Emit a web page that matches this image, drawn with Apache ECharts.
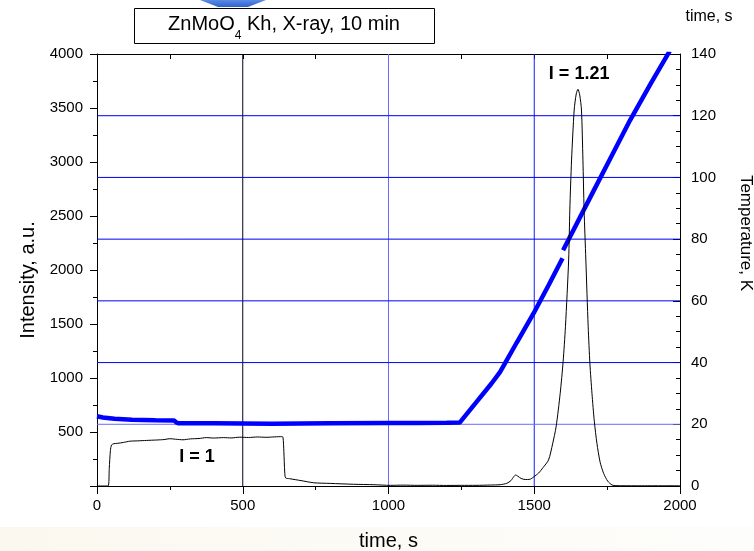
<!DOCTYPE html>
<html><head><meta charset="utf-8">
<script src="https://cdn.jsdelivr.net/npm/echarts@6/dist/echarts.min.js"></script>
<style>html,body{margin:0;padding:0;background:#fff}#c{width:754px;height:551px}</style>
</head><body><div id="c"></div>
<script>
// Intensity (left axis), [time s, intensity a.u.]
const intensity = [
  [0,0],[38,0],[42,160],[46,330],[50,380],[58,392],[70,395],[90,403],[113,415],[140,418],[170,422],
  [205,426],[230,430],[250,438],[270,433],[295,428],[320,436],[350,440],[375,448],[400,444],[434,448],
  [460,445],[490,452],[520,449],[550,454],[580,451],[610,455],[634,457],[638,452],[641,320],[644,130],
  [647,75],[660,68],[700,50],[743,30],[800,24],[880,16],[950,12],[1006,6],[1050,8],[1100,6],[1150,7],
  [1200,5],[1250,6],[1300,6],[1350,9],[1383,12],[1406,25],[1420,50],[1430,88],[1436,102],[1443,92],
  [1455,70],[1469,60],[1485,62],[1498,84],[1515,120],[1530,170],[1549,241],[1563,390],[1575,549],
  [1589,858],[1599,1150],[1607,1475],[1618,2093],[1622,2556],[1628,3018],[1637,3481],[1644,3630],
  [1650,3673],[1656,3620],[1662,3481],[1667,3018],[1671,2556],[1677,2093],[1685,1475],[1691,1130],
  [1698,858],[1706,600],[1715,395],[1726,220],[1738,117],[1752,45],[1767,9],[1780,3],[1850,2],[2000,2]
];
// Temperature (right axis), [time s, K]; '-' marks the small gap in the trace
const temperature = [
  [0,22.6],[20,22.2],[60,21.8],[120,21.5],[200,21.3],[265,21.2],[272,20.6],[280,20.3],[400,20.3],
  [600,20.2],[800,20.3],[1000,20.4],[1100,20.4],[1200,20.5],[1245,20.6],[1300,27.0],[1354,33.3],
  [1383,37.0],[1440,46.5],[1498,56.0],[1550,65.2],[1597,73.8],[1598,'-'],[1599,76.4],[1700,95.0],
  [1760,106.0],[1829,118.6],[1900,130.5],[1965,141.0]
];
const timeRange = [0, 2000];
const intensityRange = [0, 4000];
const timeGridLines = [500, 1000, 1500];
const timeGridColors = ['#000020', '#6a6aff', '#1a1aff'];
const tempGridLines = [20, 40, 60, 80, 100, 120];
const tempGridColors = ['#6a6aff', '#0000f0', '#0000f0', '#0000f0', '#0000f0', '#0000f0'];
const annotations = [
  {text: 'I = 1', t: 343, v: 268},
  {text: 'I = 1.21', t: 1654, v: 3815}
];

const FONT = '"Liberation Sans", Arial, sans-serif';
const chart = echarts.init(document.getElementById('c'), null, {renderer: 'canvas'});
const axisLineStyle = {color: '#000', width: 1};

const gridSeries = [];
timeGridLines.forEach((t, i) => gridSeries.push({
  type: 'line', xAxisIndex: 0, yAxisIndex: 0, z: 1, silent: true, showSymbol: false,
  data: intensityRange.map(v => [t, v]),
  lineStyle: {color: timeGridColors[i], width: 1}
}));
tempGridLines.forEach((v, i) => gridSeries.push({
  type: 'line', xAxisIndex: 0, yAxisIndex: 1, z: 1, silent: true, showSymbol: false,
  data: timeRange.map(t => [t, v]),
  lineStyle: {color: tempGridColors[i], width: 1}
}));

chart.setOption({
  animation: false,
  backgroundColor: '#fff',
  textStyle: {fontFamily: FONT},
  grid: {left: 97, right: 74, top: 54, bottom: 65, containLabel: false, outerBoundsMode: 'none'},
  xAxis: [
    {
      type: 'value', position: 'bottom', min: 0, max: 2000, interval: 500,
      axisLine: {show: true, onZero: false, lineStyle: axisLineStyle},
      axisTick: {show: true, length: 8, lineStyle: axisLineStyle},
      minorTick: {show: true, splitNumber: 2, length: 4, lineStyle: axisLineStyle},
      axisLabel: {fontSize: 15, color: '#000', margin: 12, fontFamily: FONT, formatter: v => String(v)},
      splitLine: {show: false},
      name: 'time, s', nameLocation: 'middle', nameGap: 45,
      nameTextStyle: {fontSize: 20, color: '#000', fontFamily: FONT}
    },
    {
      type: 'value', position: 'top', min: 0, max: 2000, interval: 250,
      axisLine: {show: true, onZero: false, lineStyle: axisLineStyle},
      axisTick: {show: true, inside: true, length: 5, lineStyle: axisLineStyle},
      axisLabel: {show: false},
      splitLine: {show: false}
    }
  ],
  yAxis: [
    {
      type: 'value', position: 'left', min: 0, max: 4000, interval: 500,
      axisLine: {show: true, onZero: false, lineStyle: axisLineStyle},
      axisTick: {show: true, length: 7, lineStyle: axisLineStyle},
      minorTick: {show: true, splitNumber: 2, length: 4, lineStyle: axisLineStyle},
      axisLabel: {fontSize: 15, color: '#000', margin: 14, fontFamily: FONT,
        formatter: v => (v === 0 ? '' : String(v))},
      splitLine: {show: false},
      name: 'Intensity, a.u.', nameLocation: 'middle', nameGap: 59, nameRotate: 90,
      nameTextStyle: {fontSize: 20, color: '#000', fontFamily: FONT, padding: [0, 20, 0, 0]}
    },
    {
      type: 'value', position: 'right', min: 0, max: 140, interval: 20,
      axisLine: {show: true, onZero: false, lineStyle: axisLineStyle},
      axisTick: {show: true, inside: true, length: 7, lineStyle: axisLineStyle},
      minorTick: {show: true, splitNumber: 4, length: 4, lineStyle: axisLineStyle},
      axisLabel: {fontSize: 15, color: '#000', margin: 11, fontFamily: FONT},
      splitLine: {show: false},
      name: 'Temperature, K', nameLocation: 'middle', nameGap: 57, nameRotate: -90,
      nameTextStyle: {fontSize: 17, color: '#000', fontFamily: FONT, padding: [0, 74, 0, 0]}
    }
  ],
  series: gridSeries.concat([
    {
      name: 'Intensity', type: 'line', xAxisIndex: 0, yAxisIndex: 0, z: 4,
      data: intensity, showSymbol: false, smooth: 0.25,
      lineStyle: {color: '#000', width: 1},
      markPoint: {
        z: 6, symbol: 'circle', symbolSize: 0,
        label: {show: true, position: 'inside', color: '#000', fontWeight: 'bold', fontSize: 18, fontFamily: FONT,
          formatter: p => p.name},
        data: annotations.map(a => ({name: a.text, coord: [a.t, a.v]}))
      }
    },
    {
      name: 'Temperature', type: 'line', xAxisIndex: 0, yAxisIndex: 1, z: 3,
      data: temperature, showSymbol: false, connectNulls: false, clip: true,
      lineStyle: {color: '#0000ff', width: 4.5}
    }
  ]),
  graphic: [
    {type: 'rect', z: 0, silent: true, shape: {x: 0, y: 527, width: 754, height: 24},
      style: {fill: new echarts.graphic.LinearGradient(0, 0, 1, 0, [{offset: 0, color: '#fbf8ef'}, {offset: 1, color: '#fdfdfb'}])}},
    {type: 'polygon', z: 10, silent: true, shape: {points: [[200, 0], [266, 0], [248, 7], [218, 7]]},
      style: {fill: new echarts.graphic.LinearGradient(0, 0, 0, 1, [{offset: 0, color: '#5b8be6'}, {offset: 1, color: '#2f62cc'}])}},
    {type: 'rect', z: 10, silent: true, shape: {x: 134.5, y: 8.5, width: 300, height: 35},
      style: {fill: '#fff', stroke: '#000', lineWidth: 1}},
    {type: 'text', z: 11, silent: true, x: 284, y: 28,
      style: {
        text: '{a|ZnMoO}{s|4}{a| Kh, X-ray, 10 min}', align: 'center', verticalAlign: 'middle',
        rich: {
          a: {fontSize: 20, fontFamily: FONT, fill: '#000', color: '#000', lineHeight: 22, verticalAlign: 'top'},
          s: {fontSize: 12, fontFamily: FONT, fill: '#000', color: '#000', lineHeight: 28, verticalAlign: 'bottom'}
        }
      }},
    {type: 'text', z: 11, silent: true, x: 709, y: 17,
      style: {text: 'time, s', align: 'center', verticalAlign: 'middle', font: '16px ' + FONT, fill: '#000'}}
  ]
});
</script>
</body></html>
